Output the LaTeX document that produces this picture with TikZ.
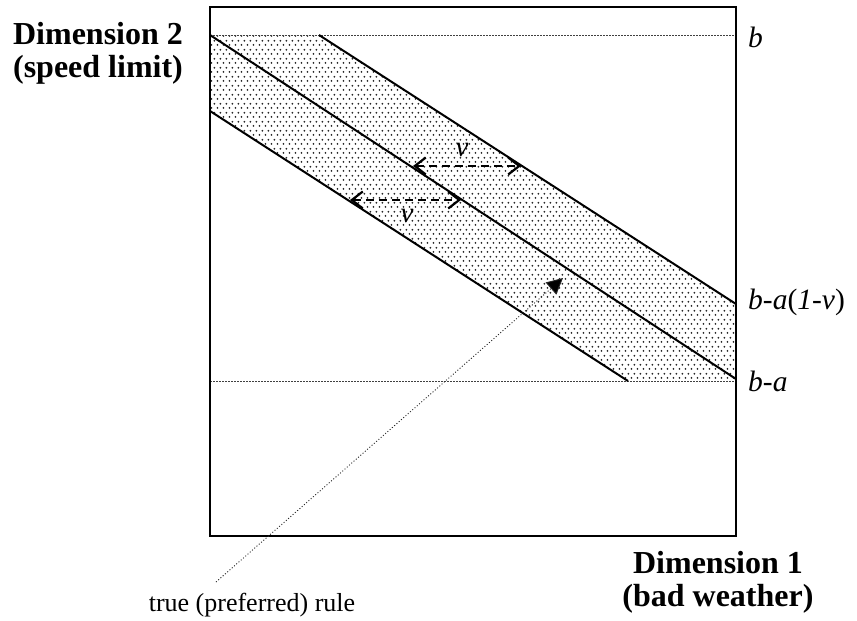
\documentclass[tikz,border=0pt]{standalone}
\usepackage{fontspec}
\setmainfont{Liberation Serif}
\usetikzlibrary{patterns,arrows.meta}
\pgfdeclarepatternformonly{banddots}{\pgfpointorigin}{\pgfpoint{6.4pt}{8.6pt}}{\pgfpoint{6.4pt}{8.6pt}}{%
  \pgfpathcircle{\pgfpoint{1.6pt}{2.15pt}}{1.05pt}%
  \pgfpathcircle{\pgfpoint{4.8pt}{6.45pt}}{1.05pt}%
  \pgfusepath{fill}%
}
\begin{document}
\begin{tikzpicture}[x=1pt,y=-1pt,
  frame/.style={line width=2.2pt},
  bandline/.style={line width=2pt},
  refline/.style={dash pattern=on 1.5pt off 1.5pt, line width=0.8pt, black!75},
  widtharrow/.style={line width=2.2pt, dash pattern=on 8pt off 5pt,
    {Straight Barb[length=11pt,width=17pt]}-{Straight Barb[length=11pt,width=17pt]}},
  rulearrow/.style={dash pattern=on 1pt off 2pt, line width=0.9pt, black!85, -{Triangle[length=16pt,width=16pt,fill=black]}},
  axislabel/.style={font=\fontsize{32}{33}\selectfont\bfseries, align=center, inner sep=0pt},
  edgelabel/.style={font=\fontsize{29.5}{30}\selectfont\itshape, anchor=west, inner sep=0pt},
  vlabel/.style={font=\fontsize{29}{30}\selectfont\itshape, inner sep=0pt},
  plainlabel/.style={font=\fontsize{26}{30}\selectfont, inner sep=0pt}
]
\useasboundingbox (0,0) rectangle (857,621);
% band shading
\fill[pattern=banddots, pattern color=black!85] (210,35) -- (319,35) -- (736,304) -- (736,381) -- (628,381) -- (210,111) -- cycle;
% reference levels
\coordinate (bL) at (210,35);
\coordinate (bR) at (736,35);
\coordinate (baL) at (210,381);
\coordinate (baR) at (736,381);
\draw[refline] (bL) -- (bR);
\draw[refline] (baL) -- (baR);
% band lines
\coordinate (upS) at (319,35);
\coordinate (upE) at (736,304);
\coordinate (midS) at (210,35);
\coordinate (midE) at (736,379);
\coordinate (loS) at (210,111);
\coordinate (loE) at (628,381);
\draw[bandline] (upS) -- (upE);
\draw[bandline] (midS) -- (midE);
\draw[bandline] (loS) -- (loE);
% frame
\draw[frame] (210,7) rectangle (736,536);
% width arrows
\coordinate (a1L) at (413,166);
\coordinate (a1R) at (521,166);
\coordinate (a2L) at (350,200);
\coordinate (a2R) at (461,200);
\draw[widtharrow] (a1L) -- (a1R);
\draw[widtharrow] (a2L) -- (a2R);
\node[vlabel] (v1) at (462,150) {v};
\node[vlabel] (v2) at (407,216) {v};
% labels right
\node[edgelabel] (lb) at (748,37) {b};
\node[edgelabel] (lbav) at (748,302) {b-a\textup{(}1-v\textup{)}};
\node[edgelabel] (lba) at (748,381) {b-a};
% axis labels
\node[axislabel] (dim2) at (98,53) {Dimension 2\\(speed limit)};
\node[axislabel] (dim1) at (718,582) {Dimension 1\\(bad weather)};
% true rule
\node[plainlabel] (truerule) at (252,605) {true (preferred) rule};
\coordinate (ruleS) at (216,582);
\coordinate (ruleT) at (563,278);
\draw[rulearrow] (ruleS) -- (ruleT);
\end{tikzpicture}
\end{document}
